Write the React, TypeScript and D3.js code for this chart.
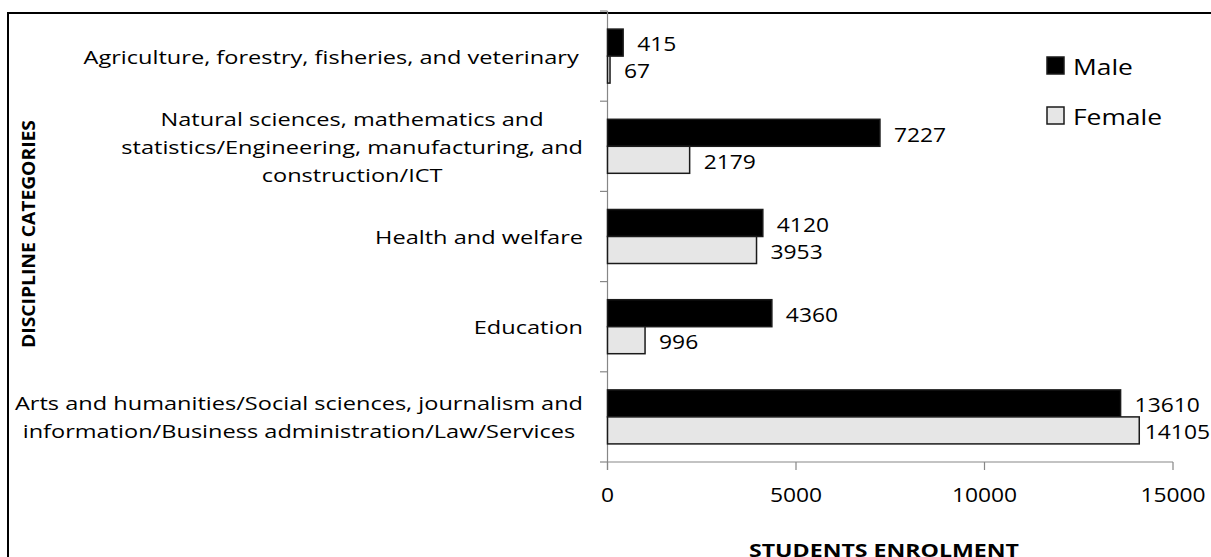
import React from "react";
import * as d3 from "d3";

const categories: string[][] = [
  ["Agriculture, forestry, fisheries, and veterinary"],
  ["Natural sciences, mathematics and", "statistics/Engineering, manufacturing, and", "construction/ICT"],
  ["Health and welfare"],
  ["Education"],
  ["Arts and humanities/Social sciences, journalism and", "information/Business administration/Law/Services"],
];
const categoryKeys = ["Agriculture", "Natural", "Health", "Education", "Arts"];
const maleValues = [415, 7227, 4120, 4360, 13610];
const femaleValues = [67, 2179, 3953, 996, 14105];
const seriesNames = ["Male", "Female"];
const xTicks = [0, 5000, 10000, 15000];

const W = 1211;
const H = 557;
const FONT = "'Open Sans', sans-serif";
const SX = 1.17; // horizontal stretch of the reference's text

function SText(props: {
  x: number;
  y: number;
  anchor?: "start" | "middle" | "end";
  size: number;
  bold?: boolean;
  sx?: number;
  rotate?: number;
  maxRight?: number;
  children: React.ReactNode;
}) {
  const { x, y, anchor = "start", size, bold, sx = SX, rotate = 0, maxRight, children } = props;
  return (
    <g
      transform={`translate(${x},${y}) rotate(${rotate}) scale(${sx},1)`}
      ref={(el) => {
        if (!el || maxRight === undefined) return;
        const bb = el.getBBox();
        const w = bb.width * sx;
        const nx = Math.min(x, maxRight - w);
        el.setAttribute("transform", `translate(${nx},${y}) rotate(${rotate}) scale(${sx},1)`);
      }}
    >
      <text
        x={0}
        y={0}
        textAnchor={anchor}
        dominantBaseline="central"
        fontFamily={FONT}
        fontSize={size}
        fontWeight={bold ? "bold" : "normal"}
        fill="#000"
      >
        {children}
      </text>
    </g>
  );
}

export default function App() {
  const x = d3.scaleLinear().domain([0, 15000]).range([607.5, 1173]);
  const y0 = d3.scaleBand<string>().domain(categoryKeys).range([11, 462]).paddingInner(0).paddingOuter(0);
  const y1 = d3
    .scaleBand<string>()
    .domain(seriesNames)
    .range([0, y0.bandwidth()])
    .paddingInner(0)
    .paddingOuter(0.67);
  const axisColor = "#878787";
  const fills: Record<string, string> = { Male: "#000000", Female: "#e6e6e6" };
  const values: Record<string, number[]> = { Male: maleValues, Female: femaleValues };
  const bandBounds = [...categoryKeys.map((k) => y0(k)!), 462];

  return (
    <svg width={W} height={H} style={{ position: "absolute", left: 0, top: 0, background: "#fff" }}>
      <rect x={8} y={13} width={1300} height={700} fill="#fff" stroke="#000" strokeWidth={2} />
      {/* axes */}
      <line x1={x(0)} x2={x(0)} y1={11} y2={470} stroke={axisColor} strokeWidth={1.2} />
      <line x1={x(0)} x2={x(15000)} y1={462} y2={462} stroke={axisColor} strokeWidth={1.2} />
      {bandBounds.map((b, i) => (
        <line key={"yt" + i} x1={600} x2={x(0)} y1={b} y2={b} stroke={axisColor} strokeWidth={1.2} />
      ))}
      {xTicks.map((t) => (
        <g key={"xt" + t}>
          <line x1={x(t)} x2={x(t)} y1={462} y2={470} stroke={axisColor} strokeWidth={1.2} />
          <SText x={x(t)} y={494} anchor="middle" size={19.5}>
            {t}
          </SText>
        </g>
      ))}
      {/* bars */}
      {categoryKeys.map((k, i) =>
        seriesNames.map((s) => {
          const v = values[s][i];
          const yy = y0(k)! + y1(s)!;
          return (
            <g key={k + s}>
              <rect
                x={x(0)}
                y={yy}
                width={x(v) - x(0)}
                height={y1.bandwidth()}
                fill={fills[s]}
                stroke="#1a1a1a"
                strokeWidth={1.5}
              />
              <SText x={x(v) + 14} y={yy + y1.bandwidth() / 2 + 1} size={19.5} maxRight={1210}>
                {v}
              </SText>
            </g>
          );
        })
      )}
      {/* category labels */}
      {categoryKeys.map((k, i) => {
        const lines = categories[i];
        const cy = y0(k)! + y0.bandwidth() / 2;
        const lh = 28;
        const widest = i === 0 ? 579 : 583;
        return (
          <g
            key={"cl" + k}
            ref={(el) => {
              if (!el) return;
              const bb = el.getBBox();
              const shift = widest - (bb.x + bb.width);
              el.setAttribute("transform", `translate(${shift},0)`);
            }}
          >
            {lines.map((ln, j) => (
              <SText key={j} x={300} y={cy + (j - (lines.length - 1) / 2) * lh} anchor="middle" size={19} sx={1.24}>
                {ln}
              </SText>
            ))}
          </g>
        );
      })}
      {/* axis titles */}
      <SText x={28} y={234} rotate={-90} anchor="middle" size={18} bold sx={1.07}>
        DISCIPLINE CATEGORIES
      </SText>
      <SText x={884} y={550} anchor="middle" size={18.5} bold sx={1.25}>
        STUDENTS ENROLMENT
      </SText>
      {/* legend */}
      {seriesNames.map((s, i) => (
        <g key={"lg" + s}>
          <rect x={1047} y={57 + i * 50} width={17} height={17} fill={fills[s]} stroke="#1a1a1a" strokeWidth={1.5} />
          <SText x={1073} y={66 + i * 50} size={22} sx={1.2}>
            {s}
          </SText>
        </g>
      ))}
    </svg>
  );
}
